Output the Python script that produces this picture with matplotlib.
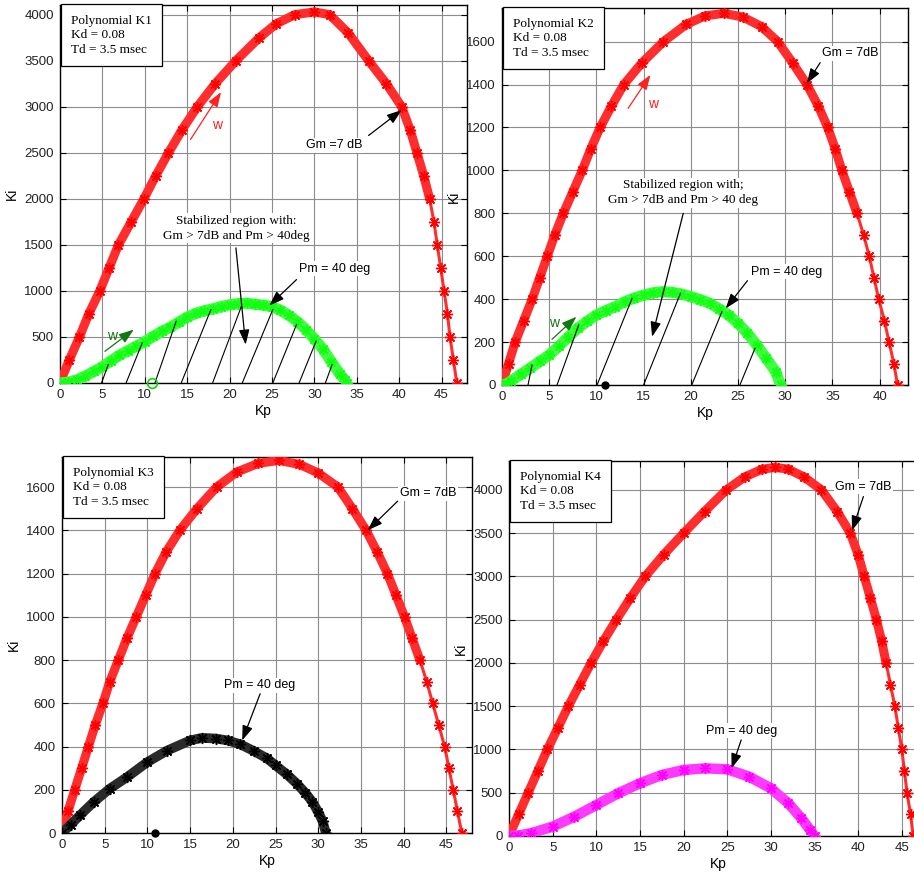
import numpy as np
import matplotlib
matplotlib.use('Agg')
import matplotlib.pyplot as plt

# ---- Panel K1 ----
k1_red_kp = [0, 1.1, 2.3, 3.4, 4.7, 5.8, 6.9, 8.4, 9.9, 11.3, 12.8, 14.4, 16.2, 18.3, 20.75, 23.5,
             25.5, 27.7, 30.0, 31.8, 34.0, 36.4, 38.5, 40.3, 41.3, 42.1, 42.9, 43.6, 44.1, 44.5,
             44.9, 45.3, 45.7, 46.0, 46.4, 46.8]
k1_red_ki = [0, 250, 500, 750, 1000, 1250, 1500, 1750, 2000, 2250, 2500, 2750, 3000, 3250, 3500, 3750,
             3900, 4000, 4030, 4000, 3800, 3500, 3250, 3000, 2750, 2500, 2250, 2000, 1750, 1500,
             1250, 1000, 750, 500, 250, 0]
k1_grn_kp = [0, 1, 2, 3, 4, 5, 6, 7, 8, 9, 10, 11, 12, 13, 14, 15, 16, 17, 18, 19, 20, 21, 22, 23,
             24, 25, 26, 27, 28, 29, 30, 31, 32, 33, 33.6, 33.8]
k1_grn_ki = [0, 8, 35, 76, 125, 177, 240, 300, 350, 400, 449, 505, 560, 605, 660, 715, 755, 785, 805,
             830, 850, 862, 866, 855, 845, 830, 790, 735, 667, 580, 480, 370, 232, 100, 33, 0]
k1_hatch = [((4.9, 0), (5.7, 200)), ((7.8, 0), (9.7, 435)), ((11.2, 0), (13.7, 670)),
            ((14.3, 0), (17.8, 797)), ((18.0, 0), (21.4, 833)), ((21.5, 0), (25.1, 797)),
            ((25.1, 0), (27.9, 634)), ((28.2, 0), (30.2, 453)), ((31.3, 0), (32.1, 199))]

# ---- Panel K2 ----
k2_red_kp = [0, 0.7, 1.4, 2.3, 3.2, 4.0, 4.8, 5.6, 6.5, 7.5, 8.5, 9.4, 10.4, 11.6, 12.9, 14.8, 17.1,
             19.5, 21.5, 23.5, 25.5, 27.5, 29.2, 30.8, 32.3, 33.5, 34.5, 35.3, 36.0, 36.8, 37.6,
             38.3, 38.9, 39.4, 39.9, 40.5, 41.0, 41.5, 41.9]
k2_red_ki = [0, 100, 200, 300, 400, 500, 600, 700, 800, 900, 1000, 1100, 1200, 1300, 1400, 1500, 1600,
             1680, 1720, 1732, 1715, 1670, 1600, 1500, 1400, 1300, 1200, 1100, 1000, 900, 800,
             700, 600, 500, 400, 300, 200, 100, 0]
k2_grn_kp = [0, 0.5, 1, 2, 3, 4, 5, 6, 7, 8, 9, 10, 11, 12, 13, 14, 15, 16, 17, 18, 19, 20, 21, 22,
             23, 24, 25, 26, 27, 28, 29, 29.5]
k2_grn_ki = [0, 5, 20, 50, 79, 110, 140, 180, 222, 264, 296, 326, 347, 365, 388, 405, 419, 430, 435,
             432, 424, 412, 398, 381, 355, 326, 287, 241, 185, 124, 62, 0]
k2_hatch = [((2.76, 0), (3.18, 93)), ((5.83, 0), (8.13, 280)), ((10.07, 0), (13.78, 404)),
            ((15.0, 0), (18.9, 427)), ((20.1, 0), (23.3, 342)), ((25.2, 0), (26.8, 171))]

# ---- Panel K3 ----
k3_red_kp = [0, 0.7, 1.5, 2.3, 3.1, 3.9, 4.8, 5.6, 6.6, 7.6, 8.7, 9.8, 10.9, 12.2, 13.8, 15.8, 18.1,
             20.5, 23.0, 25.4, 27.8, 30.0, 32.3, 34.0, 35.6, 36.9, 38.1, 39.1, 40.1, 41.0, 41.9,
             42.7, 43.4, 44.1, 44.8, 45.3, 45.8, 46.3, 46.8]
k3_red_ki = [0, 100, 200, 300, 400, 500, 600, 700, 800, 900, 1000, 1100, 1200, 1300, 1400, 1500, 1600,
             1670, 1710, 1723, 1705, 1665, 1600, 1500, 1400, 1300, 1200, 1100, 1000, 900, 800,
             700, 600, 500, 400, 300, 200, 100, 0]
k3_blk_kp = [0, 1.0, 2.1, 3.7, 5.6, 7.6, 10.0, 12.3, 15.0, 16.4, 18.0, 19.4, 20.9, 22.5, 24.0, 25.0,
             26.3, 27.5, 28.5, 29.3, 30.0, 30.5, 30.9]
k3_blk_ki = [0, 38, 82, 143, 205, 258, 328, 381, 428, 440, 437, 428, 410, 378, 345, 313,
             272, 228, 185, 145, 97, 55, 0]

# ---- Panel K4 ----
k4_red_kp = [0, 1.1, 2.2, 3.3, 4.4, 5.6, 6.8, 8.1, 9.4, 10.8, 12.3, 13.9, 15.6, 17.7, 20.0, 22.4, 24.9,
             27.0, 29.0, 30.5, 32.0, 33.8, 35.8, 37.6, 39.1, 40.0, 40.7, 41.4, 42.1, 42.7, 43.2,
             43.7, 44.2, 44.6, 45.0, 45.3, 45.6, 46.0, 46.3]
k4_red_ki = [0, 250, 500, 750, 1000, 1250, 1500, 1750, 2000, 2250, 2500, 2750, 3000, 3250, 3500, 3750,
             4000, 4150, 4240, 4260, 4240, 4150, 4000, 3750, 3500, 3250, 3000, 2750, 2500, 2250,
             2000, 1750, 1500, 1250, 1000, 750, 500, 250, 0]
k4_mag_kp = [0, 1, 2.5, 5, 7.5, 10, 12.5, 15, 17.5, 20, 22.5, 25, 27.5, 30, 32, 33.5, 34.5, 35]
k4_mag_ki = [0, 5, 31, 108, 224, 358, 493, 609, 705, 763, 782, 771, 686, 551, 378, 204, 69, 0]

info_lines = ['Kd = 0.08', 'Td = 3.5 msec']

SANS = 'Liberation Sans'
SERIF = 'Liberation Serif'
STAR = (8, 2, 0)


def curve(ax, kp, ki, color, band, lw=6.5, ms=8, sparse_tail=False):
    kp = np.asarray(kp, float)
    ki = np.asarray(ki, float)
    n = len(kp)
    if sparse_tail:
        # markers thin out past the peak, on the lower half of the falling side
        ipk = int(np.argmax(ki))
        cut = next(i for i in range(ipk, n) if ki[i] < 0.5 * ki.max())
    else:
        cut = n
    ax.plot(kp[:cut + 1], ki[:cut + 1], '-', color=band, lw=lw, solid_capstyle='round',
            solid_joinstyle='round', zorder=3)
    if cut < n:
        ax.plot(kp[cut:], ki[cut:], '-', color=band, lw=2.2, zorder=3)
    ax.plot(kp, ki, linestyle='none', marker=STAR, color=color, ms=ms, mew=1.0, zorder=3)


def setup(ax, xlim, ylim, xticks, yticks):
    ax.set_xlim(*xlim)
    ax.set_ylim(*ylim)
    ax.set_xticks(xticks)
    ax.set_yticks(yticks)
    ax.grid(True, color='0.55', lw=0.8)
    ax.set_axisbelow(True)
    ax.tick_params(direction='in', top=True, right=True, length=4, width=0.8,
                   labelsize=9.5, colors='k', pad=4.5)
    for lab in ax.get_xticklabels() + ax.get_yticklabels():
        lab.set_fontfamily(SANS)
        lab.set_color('#222222')
    for sp in ax.spines.values():
        sp.set_linewidth(1.0)
    ax.set_xlabel('Kp', fontfamily=SANS, fontsize=10, labelpad=2)
    ax.set_ylabel('Ki', fontfamily=SANS, fontsize=10, labelpad=4)


def info_box(ax, name):
    txt = 'Polynomial ' + name + '\n' + '\n'.join(info_lines)
    ax.annotate(txt, xy=(0, 1), xycoords='axes fraction', xytext=(8.0, -7.0),
                textcoords='offset points', ha='left', va='top', fontfamily=SERIF,
                fontsize=9.5, linespacing=1.3, zorder=10,
                bbox=dict(boxstyle='square,pad=0.78', fc='white', ec='black', lw=0.9))


def label_arrow(ax, text, tip, tail, textpos, family=SANS, size=9, color='k', ls=1.35):
    ax.annotate('', xy=tip, xytext=tail,
                arrowprops=dict(arrowstyle='-|>,head_length=0.9,head_width=0.32', color=color,
                                lw=0.9, shrinkA=0, shrinkB=0), zorder=6)
    if text:
        ax.text(textpos[0], textpos[1], text, ha='center', va='center', fontfamily=family,
                fontsize=size, color=color, linespacing=ls, zorder=7,
                bbox=dict(boxstyle='square,pad=0.12', fc='white', ec='none'))


def hatch(ax, segs):
    for (x0, y0), (x1, y1) in segs:
        ax.plot([x0, x1], [y0, y1], color='k', lw=0.8, zorder=4)


fig = plt.figure(figsize=(9.14, 8.75), dpi=100)
ax1 = fig.add_axes([0.0656, 0.5623, 0.4453, 0.432])
ax2 = fig.add_axes([0.5492, 0.5600, 0.4442, 0.4309])
ax3 = fig.add_axes([0.0678, 0.0480, 0.4486, 0.4297])
ax4 = fig.add_axes([0.5569, 0.0446, 0.4584, 0.4286])

RED, RED_BAND = '#ff0000', '#ff2e2e'
GRN, GRN_BAND = '#11ff11', '#40ff40'

# K1
setup(ax1, (0, 48), (0, 4105), np.arange(0, 46, 5), np.arange(0, 4001, 500))
curve(ax1, k1_red_kp, k1_red_ki, RED, RED_BAND, sparse_tail=True)
curve(ax1, k1_grn_kp, k1_grn_ki, GRN, GRN_BAND, lw=8)
hatch(ax1, k1_hatch)
ax1.plot([10.9], [0], 'o', mfc='none', mec='#00dd00', ms=7, mew=1.2, zorder=5, clip_on=False)
info_box(ax1, 'K1')
label_arrow(ax1, '', (19.0, 3159), (15.4, 2645), None, color='#ff2020')
ax1.text(18.5, 2797, 'w', color='#ff2020', fontfamily=SANS, fontsize=10, ha='center', va='center')
label_arrow(ax1, 'Gm =7 dB', (40.3, 2964), (36.4, 2688), (32.4, 2580))
label_arrow(ax1, 'Stabilized region with:\nGm > 7dB and Pm > 40deg', (21.9, 417), (20.75, 1467),
            (20.75, 1680), family=SERIF, size=9.5)
label_arrow(ax1, 'Pm = 40 deg', (24.7, 841), (27.9, 1123), (32.4, 1239))
label_arrow(ax1, '', (8.7, 580), (5.3, 344), None, color='#117711')
ax1.text(6.1, 507, 'w', color='#117711', fontfamily=SANS, fontsize=10, ha='center', va='center')

# K2
setup(ax2, (0, 43), (0, 1757), np.arange(0, 41, 5), np.arange(0, 1601, 200))
curve(ax2, k2_red_kp, k2_red_ki, RED, RED_BAND, sparse_tail=True)
curve(ax2, k2_grn_kp, k2_grn_ki, GRN, GRN_BAND, lw=8)
hatch(ax2, k2_hatch)
ax2.plot([10.95], [0], 'o', color='k', ms=5, zorder=5, clip_on=False)
info_box(ax2, 'K2')
label_arrow(ax2, '', (15.72, 1445), (13.36, 1289), None, color='#ff2020')
ax2.text(15.97, 1310, 'w', color='#ff2020', fontfamily=SANS, fontsize=10, ha='center', va='center')
label_arrow(ax2, 'Gm = 7dB', (32.3, 1406), (33.7, 1502), (36.9, 1546))
label_arrow(ax2, 'Stabilized region with;\nGm > 7dB and Pm > 40 deg', (15.9, 225), (19.2, 800),
            (19.2, 896), family=SERIF, size=9.5)
label_arrow(ax2, 'Pm = 40 deg', (23.7, 357), (26.0, 486), (30.1, 528))
label_arrow(ax2, '', (7.88, 318), (5.3, 213), None, color='#117711')
ax2.text(5.5, 290, 'w', color='#117711', fontfamily=SANS, fontsize=10, ha='center', va='center')

# K3
setup(ax3, (0, 48), (0, 1739), np.arange(0, 46, 5), np.arange(0, 1601, 200))
curve(ax3, k3_red_kp, k3_red_ki, RED, RED_BAND, sparse_tail=True)
curve(ax3, k3_blk_kp, k3_blk_ki, '#000000', '#2a2a2a', lw=7)
ax3.plot([10.9], [0], 'o', color='k', ms=5, zorder=5, clip_on=False)
info_box(ax3, 'K3')
label_arrow(ax3, 'Gm = 7dB', (35.8, 1400), (39.3, 1535), (42.85, 1572))
label_arrow(ax3, 'Pm = 40 deg', (21.1, 428), (23.2, 644), (23.1, 683))

# K4
setup(ax4, (0, 48), (0, 4335), np.arange(0, 46, 5), np.arange(0, 4001, 500))
curve(ax4, k4_red_kp, k4_red_ki, RED, RED_BAND, sparse_tail=True)
curve(ax4, k4_mag_kp, k4_mag_ki, '#ff00ff', '#ff3aff', lw=7.5)
info_box(ax4, 'K4')
label_arrow(ax4, 'Gm = 7dB', (39.3, 3530), (40.6, 3923), (40.6, 4038))
label_arrow(ax4, 'Pm = 40 deg', (25.5, 782), (26.6, 1110), (26.6, 1218))

fig.savefig('out.png', dpi=100)
